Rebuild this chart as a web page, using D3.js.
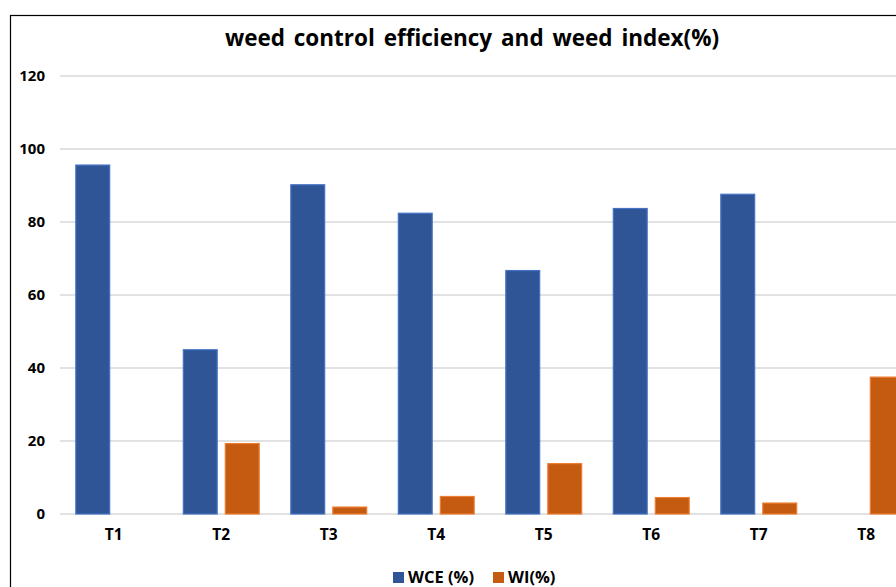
<!DOCTYPE html>
<html>
<head>
<meta charset="utf-8">
<script src="https://cdn.jsdelivr.net/npm/d3@7"></script>
<style>
  body { margin: 0; background: #fff; overflow: hidden; }
  svg { display: block; font-family: "Open Sans", "DejaVu Sans", sans-serif; }
</style>
</head>
<body>
<div id="chart-area"></div>
<script>
// data
let categories = ["T1", "T2", "T3", "T4", "T5", "T6", "T7", "T8"];
let seriesNames = ["WCE (%)", "WI(%)"];
let wce = [95.6, 45.0, 90.2, 82.4, 66.7, 83.7, 87.6, 0];
let wi = [0, 19.3, 1.9, 4.8, 13.8, 4.5, 3.0, 37.5];
let yTicks = [0, 20, 40, 60, 80, 100, 120];
let colors = ["#2F5597", "#C55A11"];
let strokes = ["#4472C4", "#ED7D31"];

let data = categories.map(function(c, i){
    return {cat: c, values: [wce[i], wi[i]]};
});

let W = 896, H = 587;
let margin = {left: 60, top: 76, bottom: 73};
let plotW = 8 * 107.5;
let plotH = H - margin.top - margin.bottom;

let svg = d3.select("#chart-area")
            .append("svg")
            .attr("width", W)
            .attr("height", H);

// chart border (right/bottom cut off in the picture)
svg.append("rect")
    .attr("x", 10.5).attr("y", 15.5)
    .attr("width", 960).attr("height", 620)
    .attr("fill", "none")
    .attr("stroke", "#000")
    .attr("stroke-width", 1.2);

// title
svg.append("text")
    .text("weed control efficiency and weed index(%)")
    .attr("x", 472)
    .attr("y", 46)
    .attr("text-anchor", "middle")
    .attr("font-size", "22.5px")
    .attr("font-weight", "bold")
    .attr("word-spacing", "3px")
    .attr("fill", "#000");

let g = svg.append("g")
    .attr("transform", "translate(" + margin.left + "," + margin.top + ")");

let x0 = d3.scaleBand()
    .domain(categories)
    .range([0, plotW])
    .paddingInner(0.285)
    .paddingOuter(0.1425);

let x1 = d3.scaleBand()
    .domain(d3.range(seriesNames.length))
    .range([0, x0.bandwidth()])
    .paddingInner(0.17);

let y = d3.scaleLinear()
    .domain([0, 120])
    .range([plotH, 0]);

// gridlines
g.append("g")
    .selectAll("line")
    .data(yTicks)
    .enter()
    .append("line")
    .attr("x1", 0)
    .attr("x2", plotW)
    .attr("y1", function(d){ return y(d); })
    .attr("y2", function(d){ return y(d); })
    .attr("stroke", "#d9d9d9")
    .attr("stroke-width", 1.5);

// y axis labels
let yAxis = d3.axisLeft(y)
    .tickValues(yTicks)
    .tickSize(0)
    .tickPadding(15);

let yg = g.append("g")
    .attr("class", "y axis")
    .call(yAxis);
yg.select(".domain").remove();
yg.selectAll("text")
    .attr("font-size", "15px")
    .attr("font-weight", "bold")
    .attr("font-family", "\"Open Sans\", sans-serif")
    .attr("fill", "#000");

// x axis labels
let xAxis = d3.axisBottom(x0)
    .tickSize(0)
    .tickPadding(15);

let xg = g.append("g")
    .attr("class", "x axis")
    .attr("transform", "translate(0," + plotH + ")")
    .call(xAxis);
xg.select(".domain").remove();
xg.selectAll("text")
    .attr("font-size", "15.5px")
    .attr("font-weight", "bold")
    .attr("font-family", "\"Open Sans\", sans-serif")
    .attr("fill", "#000");

// bars
let groups = g.selectAll(".grp")
    .data(data)
    .enter()
    .append("g")
    .attr("class", "grp")
    .attr("transform", function(d){ return "translate(" + x0(d.cat) + ",0)"; });

groups.selectAll("rect")
    .data(function(d){ return d.values.map(function(v, i){ return {i: i, v: v}; }); })
    .enter()
    .filter(function(d){ return d.v > 0; })
    .append("rect")
    .attr("x", function(d){ return x1(d.i) + 0.5; })
    .attr("y", function(d){ return y(d.v); })
    .attr("width", x1.bandwidth() - 1)
    .attr("height", function(d){ return plotH - y(d.v); })
    .attr("fill", function(d){ return colors[d.i]; })
    .attr("stroke", function(d){ return strokes[d.i]; })
    .attr("stroke-width", 1.2);

// legend
let legendPos = [393, 493];
let legend = svg.append("g");
seriesNames.forEach(function(name, i){
    legend.append("rect")
        .attr("x", legendPos[i])
        .attr("y", 572)
        .attr("width", 11)
        .attr("height", 11)
        .attr("fill", colors[i]);
    legend.append("text")
        .text(name)
        .attr("x", legendPos[i] + 15)
        .attr("y", 583)
        .attr("font-size", "16.5px")
        .attr("font-weight", "bold")
        .attr("fill", "#000");
});
</script>
</body>
</html>
